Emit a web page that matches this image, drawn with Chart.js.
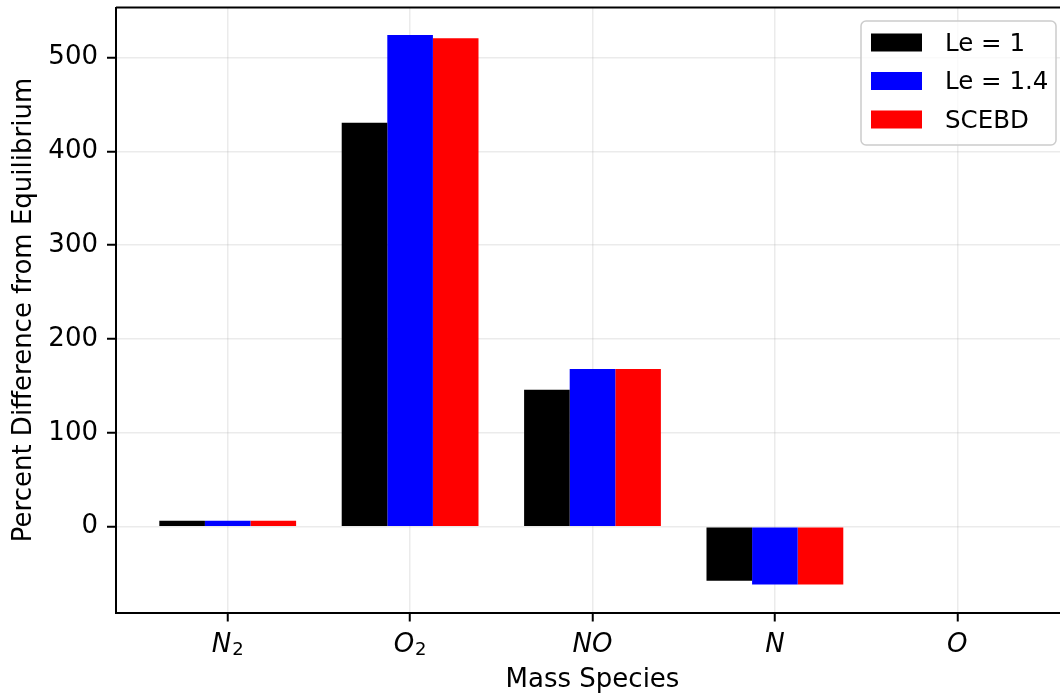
<!DOCTYPE html>
<html>
<head>
<meta charset="utf-8">
<script src="https://cdn.jsdelivr.net/npm/chart.js@4.4.1/dist/chart.umd.min.js"></script>
<style>
  html, body { margin: 0; padding: 0; background: #fff; overflow: hidden; }
  canvas { display: block; }
</style>
</head>
<body>
<canvas id="myChart" width="1080" height="698"></canvas>
<script>
// data
const species = ["N\u2082", "O\u2082", "NO", "N", "O"];
const seriesNames = ["Le = 1", "Le = 1.4", "SCEBD"];
const le1 = [6.5, 430.5, 146, -57.5, 0];
const le14 = [6.5, 524, 168, -61.5, 0];
const scebd = [6.5, 520.5, 168, -61.5, 0];
const yTicks = [0, 100, 200, 300, 400, 500];

const colors = ["#000000", "#0000ff", "#ff0000"];
const series = [le1, le14, scebd];
const FONT = "'DejaVu Sans'";

Chart.defaults.font.family = FONT;
Chart.defaults.font.size = 26;
Chart.defaults.color = "#000";

// species names: italic letters, subscript digit drawn smaller and lower
function drawSpecies(ctx, text, cx, baseY) {
  const m = text.match(/^([^\u2080-\u2089]*)([\u2080-\u2089]*)$/);
  const main = m[1];
  const sub = m[2].replace(/[\u2080-\u2089]/g, c => String(c.charCodeAt(0) - 0x2080));
  ctx.font = "italic 26px " + FONT;
  const w1 = ctx.measureText(main).width;
  ctx.font = "18px " + FONT;
  const w2 = sub ? ctx.measureText(sub).width + 1 : 0;
  const x0 = cx - (w1 + w2) / 2;
  ctx.textAlign = "left";
  ctx.textBaseline = "alphabetic";
  ctx.font = "italic 26px " + FONT;
  ctx.fillText(main, x0, baseY);
  if (sub) {
    ctx.font = "18px " + FONT;
    ctx.fillText(sub, x0 + w1 + 1, baseY + 3.5);
  }
}

// top/right spine, x tick labels and legend box
const frameAndLegend = {
  id: "frameAndLegend",
  afterDraw(chart) {
    const ctx = chart.ctx, a = chart.chartArea;
    const xs = chart.scales.x;
    ctx.save();
    ctx.strokeStyle = "#000";
    ctx.lineWidth = 2;
    ctx.beginPath();
    ctx.moveTo(a.left, a.top);
    ctx.lineTo(a.right, a.top);
    ctx.lineTo(a.right, a.bottom);
    ctx.stroke();

    ctx.fillStyle = "#000";
    species.forEach((s, i) => drawSpecies(ctx, s, xs.getPixelForValue(i), a.bottom + 39));

    const bw = 195, bh = 124;
    const bx = a.right - 13 - bw, by = a.top + 13.5;
    ctx.fillStyle = "rgba(255,255,255,0.8)";
    ctx.strokeStyle = "#cccccc";
    ctx.lineWidth = 1.5;
    ctx.beginPath();
    ctx.roundRect(bx, by, bw, bh, 5);
    ctx.fill();
    ctx.stroke();

    ctx.font = "24.5px " + FONT;
    ctx.textBaseline = "middle";
    ctx.textAlign = "left";
    chart.data.datasets.forEach((ds, i) => {
      const cy = by + 21.5 + i * 38.5;
      ctx.fillStyle = ds.backgroundColor;
      ctx.fillRect(bx + 10, cy - 9, 51, 18);
      ctx.fillStyle = "#000";
      ctx.fillText(ds.label, bx + 84, cy + 2);
    });
    ctx.restore();
  }
};

const ctx = document.getElementById("myChart").getContext("2d");

new Chart(ctx, {
  type: "bar",
  data: {
    datasets: series.map((vals, i) => ({
      label: seriesNames[i],
      data: vals.map((v, j) => ({ x: j, y: v })),
      backgroundColor: colors[i],
      borderWidth: 0,
      categoryPercentage: 0.75,
      barPercentage: 1
    }))
  },
  options: {
    responsive: false,
    animation: false,
    devicePixelRatio: 1,
    events: [],
    layout: { padding: { top: 7.5, right: 11, left: 0, bottom: 0 } },
    plugins: {
      legend: { display: false },
      tooltip: { enabled: false }
    },
    scales: {
      x: {
        type: "linear",
        min: -0.6125,
        max: 4.6125,
        offset: false,
        z: 1,
        afterBuildTicks: s => { s.ticks = species.map((_, i) => ({ value: i })); },
        afterFit: s => { s.height = 85.5; s.paddingLeft = 0; s.paddingRight = 0; },
        ticks: { display: false },
        grid: {
          offset: false,
          color: "rgba(176,176,176,0.25)",
          lineWidth: 1.5,
          tickColor: "#000",
          tickWidth: 2,
          tickLength: 9
        },
        border: { color: "#000", width: 2 },
        title: {
          display: true,
          text: "Mass Species",
          padding: { top: 0, bottom: 2 }
        }
      },
      y: {
        min: -91.4,
        max: 553.3,
        z: 1,
        afterBuildTicks: s => { s.ticks = yTicks.map(v => ({ value: v })); },
        afterFit: s => { s.width = 116; s.paddingTop = 0; s.paddingBottom = 0; },
        ticks: { padding: 9 },
        grid: {
          color: "rgba(176,176,176,0.25)",
          lineWidth: 1.5,
          tickColor: "#000",
          tickWidth: 2,
          tickLength: 9
        },
        border: { color: "#000", width: 2 },
        title: {
          display: true,
          text: "Percent Difference from Equilibrium",
          padding: { top: 9, bottom: 0 }
        }
      }
    }
  },
  plugins: [frameAndLegend]
});
</script>
</body>
</html>
